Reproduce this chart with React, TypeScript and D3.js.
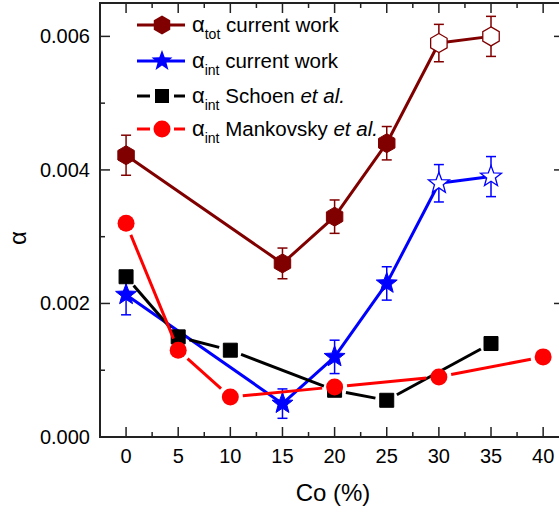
import * as d3 from "d3";
import { useEffect, useRef } from "react";

// alpha_tot current work
const totX = [0, 15, 20, 25, 30, 35];
const totY = [0.00422, 0.0026, 0.0033, 0.0044, 0.0059, 0.006];
const totErr = [0.0003, 0.00023, 0.00025, 0.00025, 0.00028, 0.0003];
const totOpen = [false, false, false, false, true, true];

// alpha_int current work
const intX = [0, 15, 20, 25, 30, 35];
const intY = [0.00213, 0.0005, 0.0012, 0.0023, 0.0038, 0.0039];
const intErr = [0.0003, 0.00022, 0.00025, 0.00025, 0.00028, 0.0003];
const intOpen = [false, false, false, false, true, true];

// alpha_int Schoen et al.
const schX = [0, 5, 10, 20, 25, 35];
const schY = [0.0024, 0.0015, 0.0013, 0.0007, 0.00055, 0.0014];

// alpha_int Mankovsky et al.
const manX = [0, 5, 10, 20, 30, 40];
const manY = [0.0032, 0.0013, 0.0006, 0.00075, 0.0009, 0.0012];

const xTicks = [0, 5, 10, 15, 20, 25, 30, 35, 40];
const xMinor = [2.5, 7.5, 12.5, 17.5, 22.5, 27.5, 32.5, 37.5];
const yTicks = [0, 0.002, 0.004, 0.006];
const yMinor = [0.001, 0.003, 0.005];

const legendLabels = [
  { sub: "tot", text: " current work", italic: "" },
  { sub: "int", text: " current work", italic: "" },
  { sub: "int", text: " Schoen ", italic: "et al." },
  { sub: "int", text: " Mankovsky ", italic: "et al." },
];

const W = 559;
const H = 514;
const L = 100, R = 564, T = 3, B = 437;
const FONT = "'Liberation Sans', Arial, sans-serif";

function hexPath(r: number) {
  const pts = d3.range(6).map((i) => {
    const a = -Math.PI / 2 + (i * Math.PI) / 3;
    return [r * Math.cos(a), r * Math.sin(a)];
  });
  return "M" + pts.map((p) => p.join(",")).join("L") + "Z";
}

function starPath(r: number) {
  const inner = r * 0.42;
  const pts = d3.range(10).map((i) => {
    const a = -Math.PI / 2 + (i * Math.PI) / 5;
    const rr = i % 2 === 0 ? r : inner;
    return [rr * Math.cos(a), rr * Math.sin(a)];
  });
  return "M" + pts.map((p) => p.join(",")).join("L") + "Z";
}

export default function App() {
  const ref = useRef<SVGSVGElement>(null);

  useEffect(() => {
    document.body.style.margin = "0";
    const svg = d3.select(ref.current);
    svg.selectAll("*").remove();

    const x = d3.scaleLinear().domain([-2.5, 42]).range([L, R]);
    const y = d3.scaleLinear().domain([0, 0.0065]).range([B, T]);

    const axisColor = "#222";

    // axes frame
    svg.append("rect")
      .attr("x", L).attr("y", T).attr("width", R - L).attr("height", B - T)
      .attr("fill", "none").attr("stroke", axisColor).attr("stroke-width", 2);

    const ticks = svg.append("g").attr("stroke", axisColor).attr("stroke-width", 1.5);
    xTicks.forEach((v) => {
      ticks.append("line").attr("x1", x(v)).attr("x2", x(v)).attr("y1", B).attr("y2", B - 10);
      ticks.append("line").attr("x1", x(v)).attr("x2", x(v)).attr("y1", T).attr("y2", T + 10);
    });
    xMinor.forEach((v) => {
      ticks.append("line").attr("x1", x(v)).attr("x2", x(v)).attr("y1", B).attr("y2", B - 5);
      ticks.append("line").attr("x1", x(v)).attr("x2", x(v)).attr("y1", T).attr("y2", T + 5);
    });
    yTicks.forEach((v) => {
      ticks.append("line").attr("x1", L).attr("x2", L + 10).attr("y1", y(v)).attr("y2", y(v));
      ticks.append("line").attr("x1", R).attr("x2", R - 10).attr("y1", y(v)).attr("y2", y(v));
    });
    yMinor.forEach((v) => {
      ticks.append("line").attr("x1", L).attr("x2", L + 5).attr("y1", y(v)).attr("y2", y(v));
      ticks.append("line").attr("x1", R).attr("x2", R - 5).attr("y1", y(v)).attr("y2", y(v));
    });

    const labels = svg.append("g").attr("font-family", FONT).attr("font-size", 20).attr("fill", "#000");
    xTicks.forEach((v) => {
      labels.append("text").attr("x", x(v)).attr("y", 463).attr("text-anchor", "middle").text(String(v));
    });
    yTicks.forEach((v) => {
      labels.append("text").attr("x", 90).attr("y", y(v) + 7).attr("text-anchor", "end").text(d3.format(".3f")(v));
    });
    svg.append("text")
      .attr("x", 333).attr("y", 501).attr("text-anchor", "middle")
      .attr("font-family", FONT).attr("font-size", 24).text("Co (%)");
    svg.append("text")
      .attr("transform", `translate(26,238) rotate(-90)`).attr("text-anchor", "middle")
      .attr("font-family", FONT).attr("font-size", 24).text("α");

    const plot = svg.append("g");

    function errorBars(xs: number[], ys: number[], es: number[], color: string) {
      const g = plot.append("g").attr("stroke", color).attr("stroke-width", 1.5);
      xs.forEach((xv, i) => {
        const cx = x(xv);
        const y1 = y(ys[i] + es[i]);
        const y2 = y(ys[i] - es[i]);
        g.append("line").attr("x1", cx).attr("x2", cx).attr("y1", y1).attr("y2", y2);
        g.append("line").attr("x1", cx - 5).attr("x2", cx + 5).attr("y1", y1).attr("y2", y1);
        g.append("line").attr("x1", cx - 5).attr("x2", cx + 5).attr("y1", y2).attr("y2", y2);
      });
    }

    function solidLine(xs: number[], ys: number[], color: string) {
      const line = d3.line<number>().x((d) => x(d)).y((_, i) => y(ys[i]));
      plot.append("path").attr("d", line(xs)).attr("fill", "none")
        .attr("stroke", color).attr("stroke-width", 3).attr("stroke-linejoin", "round");
    }

    function gappedLine(xs: number[], ys: number[], color: string, gap: number) {
      for (let i = 0; i < xs.length - 1; i++) {
        const x1 = x(xs[i]), y1 = y(ys[i]), x2 = x(xs[i + 1]), y2 = y(ys[i + 1]);
        const len = Math.hypot(x2 - x1, y2 - y1);
        const ux = (x2 - x1) / len, uy = (y2 - y1) / len;
        plot.append("line")
          .attr("x1", x1 + ux * gap).attr("y1", y1 + uy * gap)
          .attr("x2", x2 - ux * gap).attr("y2", y2 - uy * gap)
          .attr("stroke", color).attr("stroke-width", 3);
      }
    }

    function markers(xs: number[], ys: number[], path: string, color: string, open?: boolean[]) {
      xs.forEach((xv, i) => {
        const isOpen = open ? open[i] : false;
        plot.append("path")
          .attr("d", path)
          .attr("transform", `translate(${x(xv)},${y(ys[i])})`)
          .attr("fill", isOpen ? "#fff" : color)
          .attr("stroke", color).attr("stroke-width", isOpen ? 1.3 : 1);
      });
    }

    const maroon = "#800000";
    const blue = "#0000ff";
    const red = "#ff0000";
    const black = "#000";

    // alpha_tot
    errorBars(totX, totY, totErr, maroon);
    solidLine(totX, totY, maroon);
    markers(totX, totY, hexPath(9.5), maroon, totOpen);

    // alpha_int
    errorBars(intX, intY, intErr, blue);
    solidLine(intX, intY, blue);
    markers(intX, intY, starPath(11), blue, intOpen);

    // Schoen
    gappedLine(schX, schY, black, 11.5);
    markers(schX, schY, "M-7,-7H7V7H-7Z", black);

    // Mankovsky
    gappedLine(manX, manY, red, 12.5);
    manX.forEach((xv, i) => {
      plot.append("circle").attr("cx", x(xv)).attr("cy", y(manY[i])).attr("r", 8.5).attr("fill", red);
    });

    // legend
    const rows = [25, 61, 96, 129];
    const colors = [maroon, blue, black, red];
    const lg = svg.append("g");
    rows.forEach((ry, i) => {
      const c = colors[i];
      if (i < 2) {
        lg.append("line").attr("x1", 137).attr("x2", 185).attr("y1", ry).attr("y2", ry)
          .attr("stroke", c).attr("stroke-width", 3);
      } else {
        lg.append("line").attr("x1", 137).attr("x2", 150).attr("y1", ry).attr("y2", ry)
          .attr("stroke", c).attr("stroke-width", 3);
        lg.append("line").attr("x1", 174).attr("x2", 185).attr("y1", ry).attr("y2", ry)
          .attr("stroke", c).attr("stroke-width", 3);
      }
      const tr = `translate(162,${ry})`;
      if (i === 0) lg.append("path").attr("d", hexPath(9.5)).attr("transform", tr).attr("fill", c);
      if (i === 1) lg.append("path").attr("d", starPath(11)).attr("transform", tr).attr("fill", c);
      if (i === 2) lg.append("path").attr("d", "M-7,-7H7V7H-7Z").attr("transform", tr).attr("fill", c);
      if (i === 3) lg.append("circle").attr("cx", 162).attr("cy", ry).attr("r", 8.5).attr("fill", c);

      const lab = legendLabels[i];
      const t = lg.append("text").attr("x", 192).attr("y", ry + 7)
        .attr("font-family", FONT).attr("font-size", 20.5).attr("fill", "#000");
      t.append("tspan").attr("font-size", 22).text("α");
      t.append("tspan").attr("font-size", 14).attr("dy", 7).text(lab.sub);
      t.append("tspan").attr("dy", -7).text(lab.text);
      if (lab.italic) t.append("tspan").attr("font-style", "italic").text(lab.italic);
    });
  }, []);

  return <svg ref={ref} width={W} height={H} style={{ display: "block", background: "#fff" }} />;
}
